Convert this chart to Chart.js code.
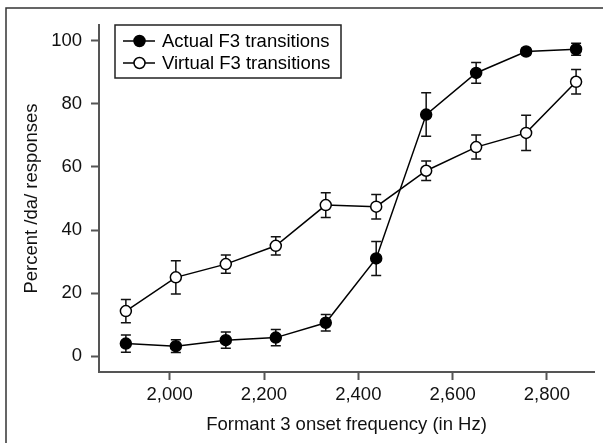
<!DOCTYPE html>
<html>
<head>
<meta charset="utf-8">
<script src="https://cdn.jsdelivr.net/npm/chart.js@4.4.1/dist/chart.umd.min.js"></script>
<style>
  html, body { margin: 0; padding: 0; background: #fff; }
  #wrap { width: 603px; height: 443px; position: relative; }
</style>
</head>
<body>
<div id="wrap"><canvas id="c" width="603" height="443"></canvas></div>
<script>
// ---- data ----
const freqs = [1907, 2013, 2119, 2225, 2331, 2438, 2544, 2650, 2756, 2862];
const actual = [4.0, 3.2, 5.1, 5.9, 10.6, 31.0, 76.6, 89.8, 96.6, 97.3];
const actualErr = [2.7, 2.0, 2.6, 2.6, 2.6, 5.4, 6.9, 3.3, 1.0, 1.9];
const virtualVals = [14.3, 25.0, 29.2, 35.0, 47.9, 47.4, 58.8, 66.3, 70.8, 87.0];
const virtualErr = [3.7, 5.3, 2.9, 2.9, 3.9, 3.9, 3.1, 3.8, 5.6, 3.9];
const xTicks = [2000, 2200, 2400, 2600, 2800];
const yTicks = [0, 20, 40, 60, 80, 100];
const seriesLabels = ['Actual F3 transitions', 'Virtual F3 transitions'];

const FONT = "'Liberation Sans', Arial, Helvetica, sans-serif";
const FS = 18.5;
const AXIS = '#555';

const errorBars = {
  id: 'errorBars',
  beforeDatasetsDraw(chart) {
    const ctx = chart.ctx;
    const ys = chart.scales.y;
    ctx.save();
    ctx.strokeStyle = '#111';
    ctx.lineWidth = 1.5;
    chart.data.datasets.forEach((ds, di) => {
      const meta = chart.getDatasetMeta(di);
      meta.data.forEach((pt, i) => {
        const v = ds.data[i].y, e = ds.errs[i];
        const yTop = ys.getPixelForValue(v + e);
        const yBot = ys.getPixelForValue(v - e);
        const x = pt.x;
        ctx.beginPath();
        ctx.moveTo(x, yTop); ctx.lineTo(x, yBot);
        ctx.moveTo(x - 5, yTop); ctx.lineTo(x + 5, yTop);
        ctx.moveTo(x - 5, yBot); ctx.lineTo(x + 5, yBot);
        ctx.stroke();
      });
    });
    ctx.restore();
  }
};

const frameAndLegend = {
  id: 'frameAndLegend',
  beforeDraw(chart) {
    const ctx = chart.ctx;
    ctx.save();
    ctx.strokeStyle = '#333';
    ctx.lineWidth = 1.5;
    ctx.beginPath();
    ctx.moveTo(6, 443); ctx.lineTo(6, 8); ctx.lineTo(603, 8);
    ctx.stroke();
    ctx.restore();
  },
  afterDraw(chart) {
    const ctx = chart.ctx;
    ctx.save();
    ctx.fillStyle = '#fff';
    ctx.strokeStyle = '#222';
    ctx.lineWidth = 1.5;
    ctx.fillRect(115, 25, 226, 53);
    ctx.strokeRect(115, 25, 226, 53);
    const rows = [41, 63];
    chart.data.datasets.forEach((ds, i) => {
      const y = rows[i];
      ctx.strokeStyle = '#000';
      ctx.lineWidth = 1.5;
      ctx.beginPath(); ctx.moveTo(123, y); ctx.lineTo(155, y); ctx.stroke();
      ctx.beginPath(); ctx.arc(139.5, y, 5.5, 0, Math.PI * 2);
      ctx.fillStyle = ds.pointBackgroundColor; ctx.fill(); ctx.stroke();
      ctx.fillStyle = '#000';
      ctx.font = FS + 'px ' + FONT;
      ctx.textBaseline = 'middle';
      ctx.textAlign = 'left';
      ctx.fillText(ds.label, 162, y + 1);
    });
    ctx.restore();
  }
};

new Chart(document.getElementById('c'), {
  type: 'line',
  data: {
    datasets: [
      {
        label: seriesLabels[0],
        data: freqs.map((x, i) => ({ x, y: actual[i] })),
        errs: actualErr,
        borderColor: '#000', borderWidth: 1.5,
        pointBackgroundColor: '#000', pointBorderColor: '#000',
        pointRadius: 5.5, pointBorderWidth: 1.5,
        tension: 0, fill: false
      },
      {
        label: seriesLabels[1],
        data: freqs.map((x, i) => ({ x, y: virtualVals[i] })),
        errs: virtualErr,
        borderColor: '#000', borderWidth: 1.5,
        pointBackgroundColor: '#fff', pointBorderColor: '#000',
        pointRadius: 5.5, pointBorderWidth: 1.5,
        tension: 0, fill: false
      }
    ]
  },
  options: {
    responsive: false,
    animation: false,
    devicePixelRatio: 1,
    layout: { padding: { top: 25, right: 9, bottom: 0, left: 0 } },
    plugins: { legend: { display: false }, tooltip: { enabled: false } },
    scales: {
      x: {
        type: 'linear', min: 1850, max: 2900,
        afterBuildTicks: s => { s.ticks = xTicks.map(v => ({ value: v })); },
        afterFit: s => { s.height = 71; },
        ticks: {
          font: { family: FONT, size: FS }, color: '#111', padding: 4,
          maxRotation: 0,
          callback: v => v.toLocaleString('en-US')
        },
        grid: { display: true, drawOnChartArea: false, drawTicks: true, tickLength: 8, tickColor: AXIS, tickWidth: 2 },
        border: { display: true, color: AXIS, width: 2 },
        title: { display: true, text: 'Formant 3 onset frequency (in Hz)', font: { family: FONT, size: FS }, color: '#111', padding: { top: 0, bottom: 7 } }
      },
      y: {
        type: 'linear', min: -5, max: 105,
        afterBuildTicks: s => { s.ticks = yTicks.map(v => ({ value: v })); },
        afterFit: s => { s.width = 99; },
        ticks: { font: { family: FONT, size: FS }, color: '#111', padding: 9 },
        grid: { display: true, drawOnChartArea: false, drawTicks: true, tickLength: 8, tickColor: AXIS, tickWidth: 2 },
        border: { display: true, color: AXIS, width: 2 },
        title: { display: true, text: 'Percent /da/ responses', font: { family: FONT, size: FS }, color: '#111', padding: { top: 21, bottom: 0 } }
      }
    }
  },
  plugins: [errorBars, frameAndLegend]
});
</script>
</body>
</html>
